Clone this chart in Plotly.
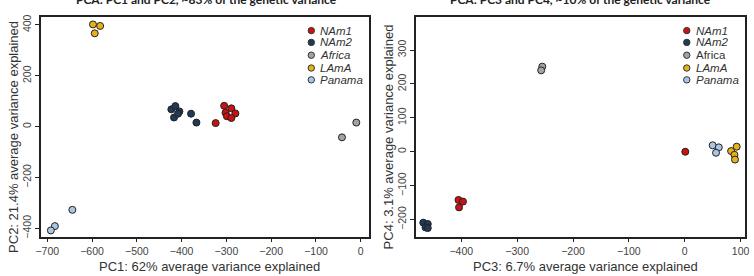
import plotly.graph_objects as go

W, H = 754, 276

groups = ["NAm1", "NAm2", "Africa", "LAmA", "Panama"]
colors = {"NAm1": "#cc1111", "NAm2": "#1e3a57", "Africa": "#a3a3a3",
          "LAmA": "#e6b219", "Panama": "#a9c6e2"}

# Panel 1: PC1 vs PC2
pc1 = {
    "NAm1": [-305, -289, -302, -280, -299, -289, -324],
    "NAm2": [-423, -414, -405, -417, -408, -379, -367],
    "Africa": [-10, -42],
    "LAmA": [-598, -582, -594],
    "Panama": [-644, -683, -692],
}
pc2 = {
    "NAm1": [82, 72, 55, 52, 41, 34, 14],
    "NAm2": [68, 81, 60, 36, 51, 51, 16],
    "Africa": [16, -42],
    "LAmA": [402, 396, 367],
    "Panama": [-327, -391, -408],
}
# Panel 2: PC3 vs PC4
pc3 = {
    "NAm1": [1, -405, -397, -404],
    "NAm2": [-468, -460, -464, -460],
    "Africa": [-255, -257],
    "LAmA": [93, 83, 89, 90],
    "Panama": [50, 61, 56],
}
pc4 = {
    "NAm1": [0, -142, -147, -164],
    "NAm2": [-209, -213, -223, -225],
    "Africa": [251, 240],
    "LAmA": [15, 2, -9, -23],
    "Panama": [19, 13, -3],
}

titles = ["PCA: PC1 and PC2, ~83% of the genetic variance",
          "PCA: PC3 and PC4, ~10% of the genetic variance"]
xtitles = ["PC1: 62% average variance explained", "PC3: 6.7% average variance explained"]
ytitles = ["PC2: 21.4% average variance explained", "PC4: 3.1% average variance explained"]
x1_ticks = [-700, -600, -500, -400, -300, -200, -100, 0]
y1_ticks = [-400, -200, 0, 200, 400]
x2_ticks = [-400, -300, -200, -100, 0, 100]
y2_ticks = [-200, -100, 0, 100, 200, 300, 400]

fig = go.Figure()
for g in groups:
    fig.add_trace(go.Scatter(x=pc1[g], y=pc2[g], mode="markers", name=g,
                             marker=dict(size=7, color=colors[g], line=dict(color="#222", width=1)),
                             xaxis="x", yaxis="y", showlegend=False))
    fig.add_trace(go.Scatter(x=pc3[g], y=pc4[g], mode="markers", name=g,
                             marker=dict(size=7, color=colors[g], line=dict(color="#222", width=1)),
                             xaxis="x2", yaxis="y2", showlegend=False))

def px(v):
    return v / W

def py(v):
    return 1 - v / H

# panel boxes (pixels)
L1, R1 = 36, 368
L2, R2 = 416, 749
T, B = 15, 238

tickfont = dict(family="Liberation Sans, Arial", size=10.5, color="#444")
axcommon = dict(showgrid=False, zeroline=False, showline=True, linecolor="#222", linewidth=1.5,
                mirror=True, ticks="outside", ticklen=4, tickcolor="#222", tickwidth=1,
                tickfont=tickfont)

fig.update_layout(
    width=W, height=H, autosize=False,
    margin=dict(l=0, r=0, t=0, b=0),
    paper_bgcolor="white", plot_bgcolor="white",
    xaxis=dict(domain=[px(L1), px(R1)], range=[-715, 17.5], tickvals=x1_ticks, anchor="y", **axcommon),
    yaxis=dict(domain=[py(B), py(T)], range=[-432, 432], tickvals=y1_ticks, tickangle=-90, anchor="x", **axcommon),
    xaxis2=dict(domain=[px(L2), px(R2)], range=[-481, 108], tickvals=x2_ticks, anchor="y2", **axcommon),
    yaxis2=dict(domain=[py(B), py(T)], range=[-250, 398], tickvals=y2_ticks, tickangle=-90, anchor="x2", **axcommon),
)

ann = []
shapes = []
# titles (partly clipped at top, as in the reference)
for cx, t in zip([204, 582], titles):
    ann.append(dict(text="<b>" + t + "</b>", x=px(cx), y=py(-2.5), xref="paper", yref="paper",
                    xanchor="center", yanchor="middle", showarrow=False,
                    font=dict(family="Lato, Open Sans", size=12, color="#222")))
# axis titles
axfont = dict(family="Liberation Sans, Arial", size=13, color="#333")
for cx, t in zip([207, 588], xtitles):
    ann.append(dict(text=t, x=px(cx), y=py(268), xref="paper", yref="paper",
                    xanchor="center", yanchor="middle", showarrow=False, font=axfont))
for cx, t in zip([8, 388], ytitles):
    ann.append(dict(text=t, x=px(cx), y=py(137), xref="paper", yref="paper",
                    xanchor="center", yanchor="middle", showarrow=False, textangle=-90, font=axfont))

# legends
rows = [29, 41, 54, 67, 79]
for mx, tx, italic_africa in [(310, 317, True), (690, 697, False)]:
    for g, ry in zip(groups, rows):
        shapes.append(dict(type="circle", xref="paper", yref="paper",
                           xsizemode="pixel", ysizemode="pixel",
                           xanchor=px(mx), yanchor=py(ry), x0=-3.2, x1=3.2, y0=-3.2, y1=3.2,
                           fillcolor=colors[g], line=dict(color="#333", width=1)))
        label = g if (g == "Africa" and not italic_africa) else "<i>" + g + "</i>"
        ann.append(dict(text=label, x=px(tx), y=py(ry), xref="paper", yref="paper",
                        xanchor="left", yanchor="middle", showarrow=False,
                        font=dict(family="Liberation Sans, Arial", size=11.5, color="#333")))

fig.update_layout(annotations=ann, shapes=shapes)
fig.write_html("out.html")
